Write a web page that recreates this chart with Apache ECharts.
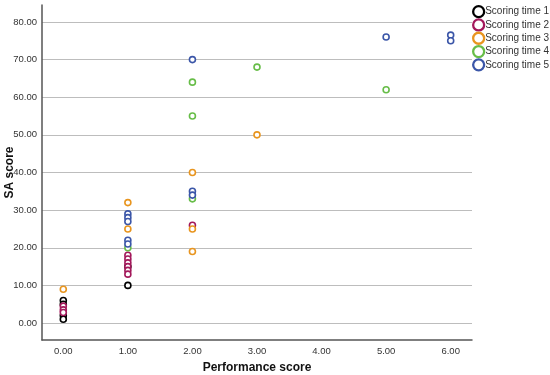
<!DOCTYPE html>
<html>
<head>
<meta charset="utf-8">
<script src="https://cdn.jsdelivr.net/npm/echarts@6/dist/echarts.min.js"></script>
<style>html,body{margin:0;padding:0;background:#fff;}#c{width:550px;height:375px;}</style>
</head>
<body>
<div id="c"></div>
<script>
const seriesNames = ['Scoring time 1', 'Scoring time 2', 'Scoring time 3', 'Scoring time 4', 'Scoring time 5'];
const colors = ['#000000', '#a3195b', '#e8951f', '#67bd48', '#3b56a8'];
const xTicks = [0, 1, 2, 3, 4, 5, 6];
const yTicks = [0, 10, 20, 30, 40, 50, 60, 70, 80];
// [performance score, SA score]
const time1 = [[0, 6], [0, 5], [0, 2], [0, 1], [1, 10], [1, 15]];
const time2 = [[0, 4.5], [0, 3.5], [0, 2.8], [1, 18], [1, 17], [1, 16], [1, 15], [1, 14], [1, 13], [2, 26]];
const time3 = [[0, 9], [1, 32], [1, 25], [2, 40], [2, 25], [2, 19], [3, 50]];
const time4 = [[1, 20], [2, 64], [2, 55], [2, 33], [3, 68], [5, 62]];
const time5 = [[1, 29], [1, 28], [1, 27], [1, 22], [1, 21], [2, 70], [2, 35], [2, 34], [5, 76], [6, 76.5], [6, 75]];
const allData = [time1, time2, time3, time4, time5];

const chart = echarts.init(document.getElementById('c'));
chart.setOption({
  animation: false,
  backgroundColor: '#fff',
  grid: { left: 42, right: 78, top: 5, bottom: 35, outerBoundsMode: 'none', containLabel: false },
  legend: {
    orient: 'vertical',
    left: 472,
    top: 5,
    padding: 0,
    itemWidth: 11,
    itemHeight: 11,
    itemGap: 0,
    icon: 'circle',
    itemStyle: { color: '#fff', borderWidth: 2.3 },
    textStyle: { fontFamily: 'Liberation Sans, Arial', fontSize: 10, lineHeight: 11, color: '#333', padding: [0, 0, 0, -4] },
    data: seriesNames
  },
  xAxis: {
    type: 'value',
    min: -0.33,
    max: 6.33,
    name: 'Performance score',
    nameLocation: 'middle',
    nameGap: 22,
    nameMoveOverlap: false,
    nameTextStyle: { fontFamily: 'Liberation Sans, Arial', fontWeight: 'bold', fontSize: 12, color: '#111' },
    axisLine: { show: true, onZero: false, lineStyle: { color: '#555', width: 1.5 } },
    axisTick: { show: false, customValues: xTicks },
    splitLine: { show: false },
    axisLabel: {
      fontFamily: 'Liberation Sans, Arial', fontSize: 9.5, color: '#333', margin: 6,
      customValues: xTicks,
      formatter: v => v.toFixed(2)
    }
  },
  yAxis: {
    type: 'value',
    min: -4.5,
    max: 84.5,
    name: 'SA score',
    nameLocation: 'middle',
    nameGap: 26,
    nameMoveOverlap: false,
    nameTextStyle: { fontFamily: 'Liberation Sans, Arial', fontWeight: 'bold', fontSize: 12, color: '#111' },
    axisLine: { show: true, onZero: false, lineStyle: { color: '#555', width: 1.5 } },
    axisTick: { show: false, customValues: yTicks },
    axisLabel: {
      fontFamily: 'Liberation Sans, Arial', fontSize: 9.5, color: '#333', margin: 5,
      customValues: yTicks,
      formatter: v => v.toFixed(2)
    },
    splitLine: {
      show: true,
      lineStyle: { color: '#bdbdbd', width: 1 }
    }
  },
  series: allData.map((d, i) => ({
    name: seriesNames[i],
    type: 'scatter',
    data: d,
    symbol: 'circle',
    symbolSize: 6,
    itemStyle: { color: '#fff', borderColor: colors[i], borderWidth: 1.6, opacity: 1 },
    emphasis: { disabled: true }
  }))
});
</script>
</body>
</html>
